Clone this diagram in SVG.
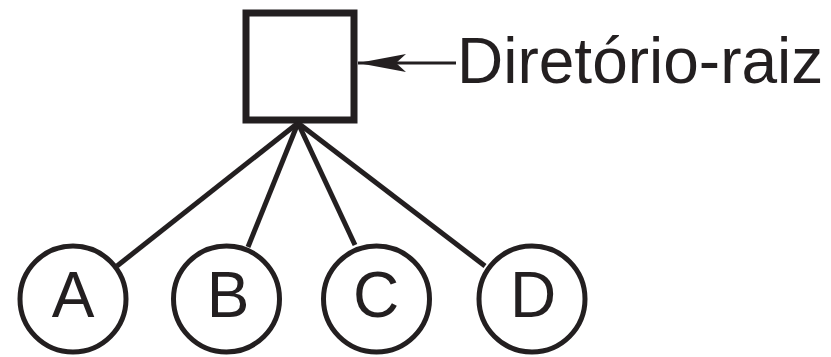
<svg xmlns="http://www.w3.org/2000/svg" width="831" height="357" viewBox="0 0 831 357">
<style>
.ln{stroke:#231f20;stroke-width:5;fill:none}
.nd{fill:#fff;stroke:#231f20;stroke-width:5}
.lb{font-family:"Liberation Sans",Arial,sans-serif;font-size:64px;fill:#231f20;text-anchor:middle}
</style>
<defs>
<marker id="ah" markerUnits="userSpaceOnUse" markerWidth="50" markerHeight="24" refX="0" refY="10" orient="auto" viewBox="0 0 50 20">
<path d="M0,10 L48,1 L38,10 L48,19 Z" fill="#231f20"/>
</marker>
</defs>
<rect width="831" height="357" fill="#fff"/>
<g id="root">
<rect x="246" y="13" width="108" height="107" fill="#fff" stroke="#231f20" stroke-width="7"/>
</g>
<g id="connectors">
<line class="ln" x1="298" y1="123" x2="117" y2="266"/>
<line class="ln" x1="298" y1="123" x2="248" y2="247"/>
<line class="ln" x1="298" y1="123" x2="355" y2="245"/>
<line class="ln" x1="298" y1="123" x2="485" y2="266"/>
<line x1="358" y1="63" x2="456" y2="63" stroke="#231f20" stroke-width="3" marker-start="url(#ah)"/>
</g>
<g id="label-root">
<text x="457" y="83" font-family="'Liberation Sans',Arial,sans-serif" font-size="64" fill="#231f20">Diretório-raiz</text>
</g>
<g id="nodeA"><circle class="nd" cx="73" cy="299" r="53"/><text class="lb" x="73" y="317">A</text></g>
<g id="nodeB"><circle class="nd" cx="226.5" cy="299" r="53"/><text class="lb" x="228" y="317">B</text></g>
<g id="nodeC"><circle class="nd" cx="376.5" cy="299" r="53"/><text class="lb" x="376" y="317">C</text></g>
<g id="nodeD"><circle class="nd" cx="532" cy="299" r="53"/><text class="lb" x="533" y="317">D</text></g>
</svg>
